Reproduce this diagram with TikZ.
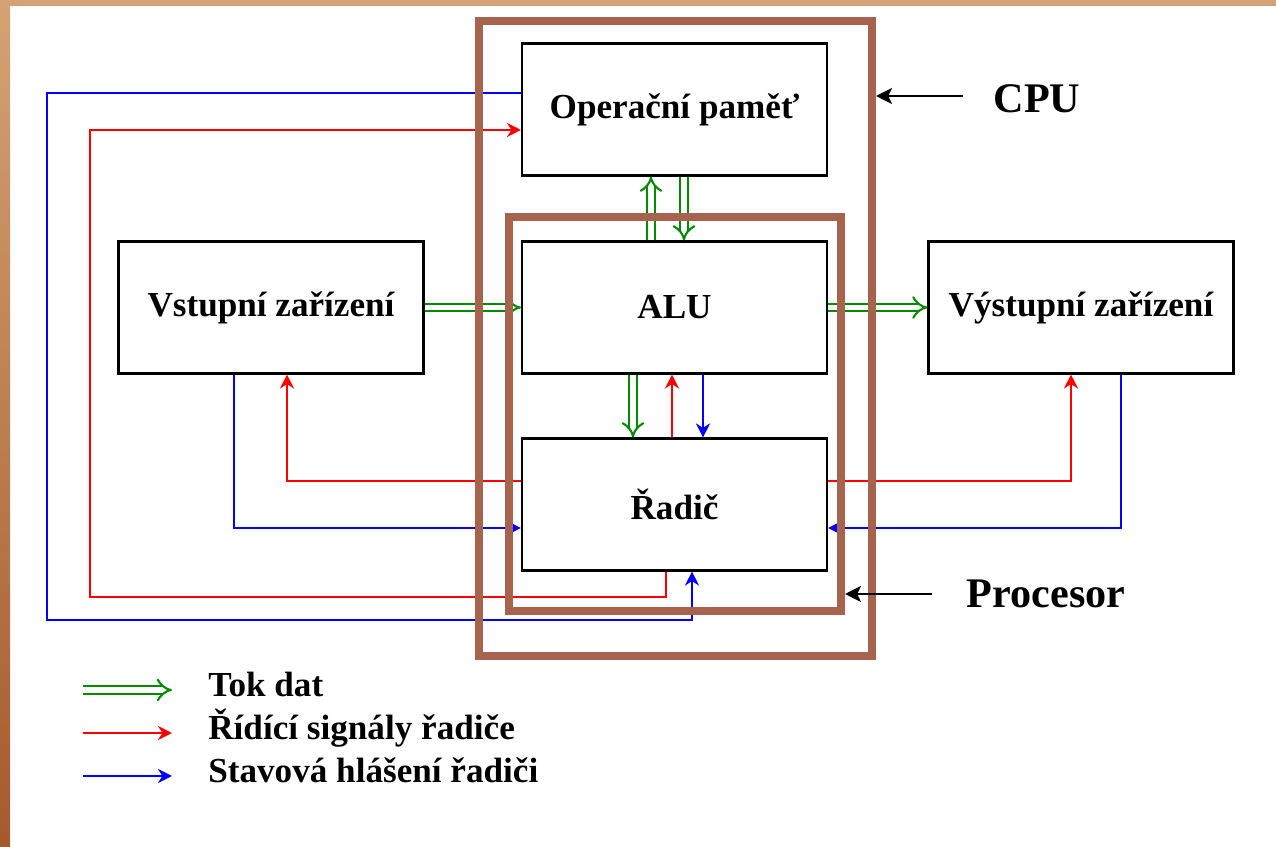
\documentclass[tikz,border=0pt]{standalone}
\usepackage{fontspec}
\setmainfont{Liberation Serif}
\usetikzlibrary{arrows.meta,calc,positioning}
\definecolor{rahm}{RGB}{166,100,78}
\definecolor{okraj}{RGB}{212,162,116}
\definecolor{okrajd}{RGB}{165,90,45}
\definecolor{zel}{RGB}{0,140,0}
\tikzset{pin/.style={-{Stealth[length=9pt,width=9pt,inset=2pt]}, line width=1.6pt},
  blk/.style={draw, line width=1.2pt, minimum width=6.1cm, minimum height=2.64cm,
    font=\bfseries\fontsize{20}{23}\selectfont},
  dat/.style={draw=zel, double=white, double distance=3.2pt, line width=1.2pt, -{Implies[scale=1.5]}},
  ctl/.style={red, line width=1.2pt, -{Stealth[length=8pt,width=8pt]}},
  sta/.style={blue, line width=1.2pt, -{Stealth[length=8pt,width=8pt]}},
  frm/.style={draw=rahm, line width=4.6pt}}

\begin{document}
\begin{tikzpicture}[x=0.02cm, y=-0.02cm]
  % page
  \useasboundingbox (0,0) rectangle (1276,847);
  \fill[white] (0,0) rectangle (1276,847);
  \fill[okraj] (0,0) rectangle (1276,6);
  \shade[top color=okraj, bottom color=okrajd] (0,0) rectangle (10,847);
  % units
  \node[blk] (mem) at (674.5,109.5) {Operační paměť};
  \node[blk] (alu) at (674.5,307.5) {ALU};
  \node[blk] (rad) at (674.5,504.5) {Řadič};
  \node[blk] (in) at (271,307.5) {Vstupní zařízení};
  \node[blk] (out) at (1081,307.5) {Výstupní zařízení};
  % data flow
  \draw[dat] (in.east) -- (alu.west);
  \draw[dat] (alu.east) -- (out.west);
  \draw[dat] ($(alu.north)+(-23.5,0)$) -- ($(mem.south)+(-23.5,0)$);
  \draw[dat] ($(mem.south)+(9.5,0)$) -- ($(alu.north)+(9.5,0)$);
  \draw[dat] ($(alu.south)+(-41.5,0)$) -- ($(rad.north)+(-41.5,0)$);
  % control signals and status reports
  \draw[ctl] ($(rad.north)+(-2.5,0)$) -- ($(alu.south)+(-2.5,0)$);
  \draw[sta] ($(alu.south)+(28.5,0)$) -- ($(rad.north)+(28.5,0)$);
  \draw[ctl] ($(rad.west)+(0,-23.5)$) -| ($(in.south)+(16,0)$);
  \draw[sta] ($(in.south)+(-37,0)$) |- ($(rad.west)+(0,23.5)$);
  \draw[ctl] ($(rad.east)+(0,-23.5)$) -| ($(out.south)+(-10,0)$);
  \draw[sta] ($(out.south)+(40,0)$) |- ($(rad.east)+(0,23.5)$);
  \draw[ctl] ($(rad.south)+(-8.5,0)$) |- (90,597) |- ($(mem.west)+(0,20.5)$);
  \draw[sta] ($(mem.west)+(0,-16.5)$) -| (47,620) -| ($(rad.south)+(17.5,0)$);
  % frames
  \node[frm, minimum width=7.86cm, minimum height=12.7cm] (cpu) at (675.5,338.5) {};
  \node[frm, minimum width=6.64cm, minimum height=7.88cm] (proc) at (675,414) {};
  \node[font=\bfseries\fontsize{24}{28}\selectfont] (cpul) at (1037,99) {CPU};
  \node[font=\bfseries\fontsize{24}{28}\selectfont] (procl) at (1046,594) {Procesor};
  \coordinate (c1) at (963,96);
  \coordinate (p1) at (932,594);
  \draw[pin] (c1) -- (c1 -| cpu.east);
  \draw[pin] (p1) -- (p1 -| proc.east);
  % legend
  \foreach \st/\tx [count=\i] in {dat/Tok dat, ctl/Řídící signály řadiče, sta/Stavová hlášení řadiči}{
    \coordinate (k\i) at (83,647+43*\i);
    \coordinate (e\i) at (172,647+43*\i);
    \node[anchor=base west, inner sep=0pt, font=\bfseries\fontsize{20}{23}\selectfont]
      (l\i) at (208,654+43*\i) {\tx};
    \draw[\st] (k\i) -- (e\i);
  }
\end{tikzpicture}
\end{document}
